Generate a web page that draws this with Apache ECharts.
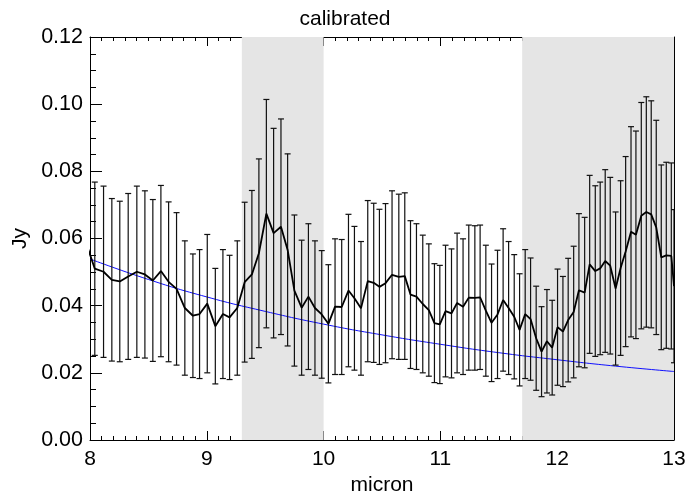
<!DOCTYPE html>
<html>
<head>
<meta charset="utf-8">
<script src="https://cdn.jsdelivr.net/npm/echarts@6/dist/echarts.min.js"></script>
<style>
  html, body { margin: 0; padding: 0; background: #fff; }
  #chart { width: 690px; height: 495px; }
</style>
</head>
<body>
<div id="chart"></div>
<script>
// wavelength grid (micron)
const micron = [7.97, 8.041, 8.116, 8.187, 8.255, 8.327, 8.401, 8.470, 8.538, 8.607,
  8.673, 8.741, 8.812, 8.881, 8.938, 9.004, 9.073, 9.138, 9.195, 9.261,
  9.324, 9.386, 9.446, 9.510, 9.572, 9.635, 9.692, 9.750, 9.812, 9.870,
  9.926, 9.984, 10.041, 10.098, 10.155, 10.213, 10.264, 10.320, 10.378, 10.429,
  10.478, 10.530, 10.586, 10.644, 10.695, 10.744, 10.795, 10.849, 10.901, 10.949,
  10.995, 11.044, 11.095, 11.143, 11.194, 11.243, 11.295, 11.340, 11.389, 11.438,
  11.489, 11.537, 11.584, 11.632, 11.678, 11.726, 11.772, 11.820, 11.866, 11.912,
  11.957, 12.003, 12.049, 12.094, 12.141, 12.186, 12.235, 12.278, 12.326, 12.368,
  12.411, 12.454, 12.500, 12.543, 12.586, 12.632, 12.674, 12.720, 12.763, 12.805,
  12.848, 12.891, 12.934, 12.977, 13.000]

// calibrated flux (Jy)
const flux = [0.0583, 0.0510, 0.0501, 0.0477, 0.0472, 0.0487, 0.0501, 0.0493, 0.0475, 0.0503,
  0.0471, 0.0450, 0.0393, 0.0370, 0.0375, 0.0406, 0.0339, 0.0375, 0.0365, 0.0393,
  0.0470, 0.0493, 0.0556, 0.0674, 0.0616, 0.0635, 0.0566, 0.0445, 0.0394, 0.0427,
  0.0393, 0.0374, 0.0346, 0.0397, 0.0396, 0.0445, 0.0422, 0.0392, 0.0473, 0.0468,
  0.0456, 0.0467, 0.0492, 0.0486, 0.0488, 0.0433, 0.0427, 0.0405, 0.0387, 0.0348,
  0.0344, 0.0384, 0.0377, 0.0408, 0.0397, 0.0424, 0.0423, 0.0425, 0.0385, 0.0349,
  0.0374, 0.0417, 0.0393, 0.0367, 0.0328, 0.0375, 0.0360, 0.0303, 0.0263, 0.0294,
  0.0275, 0.0336, 0.0323, 0.0357, 0.0381, 0.0446, 0.0439, 0.0523, 0.0503, 0.0511,
  0.0533, 0.0519, 0.0451, 0.0512, 0.0561, 0.0620, 0.0611, 0.0668, 0.0679, 0.0672,
  0.0633, 0.0544, 0.0550, 0.0548, 0.0458]

// symmetric 1-sigma errors (Jy)
const fluxErr = [0.0260, 0.0258, 0.0255, 0.0242, 0.0239, 0.0247, 0.0255, 0.0249, 0.0241, 0.0255,
  0.0238, 0.0227, 0.0200, 0.0184, 0.0192, 0.0206, 0.0172, 0.0192, 0.0185, 0.0200,
  0.0238, 0.0250, 0.0281, 0.0340, 0.0312, 0.0321, 0.0286, 0.0225, 0.0201, 0.0217,
  0.0200, 0.0190, 0.0176, 0.0202, 0.0201, 0.0227, 0.0214, 0.0199, 0.0240, 0.0237,
  0.0231, 0.0237, 0.0250, 0.0246, 0.0248, 0.0220, 0.0217, 0.0205, 0.0197, 0.0177,
  0.0176, 0.0196, 0.0192, 0.0208, 0.0202, 0.0216, 0.0215, 0.0215, 0.0195, 0.0175,
  0.0191, 0.0212, 0.0198, 0.0185, 0.0167, 0.0192, 0.0182, 0.0155, 0.0134, 0.0154,
  0.0141, 0.0173, 0.0164, 0.0184, 0.0196, 0.0228, 0.0224, 0.0265, 0.0254, 0.0257,
  0.0272, 0.0263, 0.0228, 0.0260, 0.0283, 0.0313, 0.0309, 0.0337, 0.0343, 0.0338,
  0.0319, 0.0275, 0.0277, 0.0277, 0.0228]

// blue model curve
const modelX = [8.0, 8.5, 9.0, 9.5, 10.0, 10.5, 11.0, 11.5, 12.0, 12.5, 13.0]
const modelY = [0.0539, 0.0478, 0.0426, 0.0383, 0.0345, 0.0313, 0.0285, 0.0260, 0.0239, 0.0220, 0.0204]

// shaded wavelength bands
const bands = [[9.3, 10.0], [11.7, 13.0]]

const xTicks = { min: 8, max: 13, interval: 1 }
const yTicks = { min: 0, max: 0.12, interval: 0.02 }

const font = 'Liberation Sans'
const chart = echarts.init(document.getElementById('chart'))

const xBase = {
  type: 'value',
  min: xTicks.min,
  max: xTicks.max,
  interval: xTicks.interval,
  axisLine: { onZero: false, lineStyle: { color: '#000', width: 1 } },
  axisTick: { inside: true, length: 9, lineStyle: { color: '#000' } },
  minorTick: { show: true, splitNumber: 10, length: 4, lineStyle: { color: '#000' } },
  splitLine: { show: false },
}
const yBase = {
  type: 'value',
  min: yTicks.min,
  max: yTicks.max,
  interval: yTicks.interval,
  axisLine: { show: true, onZero: false, lineStyle: { color: '#000', width: 1 } },
  axisTick: { show: true, inside: true, length: 12, lineStyle: { color: '#000' } },
  minorTick: { show: true, splitNumber: 4, length: 6, lineStyle: { color: '#000' } },
  splitLine: { show: false },
}

chart.setOption({
  animation: false,
  backgroundColor: '#fff',
  title: {
    text: 'calibrated',
    left: 'center',
    top: 4,
    textStyle: { fontFamily: font, fontSize: 21, fontWeight: 'normal', color: '#000' },
  },
  grid: { left: 90, right: 16, top: 37, bottom: 55, outerBoundsMode: 'none' },
  xAxis: [
    {
      ...xBase,
      position: 'bottom',
      name: 'micron',
      nameLocation: 'middle',
      nameGap: 34,
      nameTextStyle: { fontFamily: font, fontSize: 21, color: '#000' },
      axisLabel: { margin: 9, fontFamily: font, fontSize: 21, color: '#000' },
    },
    { ...xBase, position: 'top', axisLabel: { show: false } },
  ],
  yAxis: [
    {
      ...yBase,
      position: 'left',
      name: 'Jy',
      nameLocation: 'middle',
      nameRotate: 90,
      nameGap: 58,
      nameTextStyle: { fontFamily: font, fontSize: 21, color: '#000' },
      axisLabel: {
        margin: 7,
        fontFamily: font,
        fontSize: 21.5,
        color: '#000',
        formatter: (v) => v.toFixed(2),
      },
    },
    { ...yBase, position: 'right', axisLabel: { show: false } },
  ],
  series: [
    {
      type: 'line',
      name: 'model',
      z: 1,
      data: modelX.map((x, i) => [x, modelY[i]]),
      smooth: true,
      symbol: 'none',
      lineStyle: { color: '#1010ff', width: 1 },
      markArea: {
        silent: true,
        itemStyle: { color: '#e5e5e5' },
        data: bands.map((b) => [{ xAxis: b[0] }, { xAxis: b[1] }]),
      },
    },
    {
      type: 'custom',
      name: 'errors',
      z: 2,
      clip: true,
      data: micron.map((x, i) => [x, flux[i], fluxErr[i]]),
      encode: { x: 0, y: 1 },
      renderItem: (params, api) => {
        const x = api.value(0)
        const y = api.value(1)
        const e = api.value(2)
        const hi = api.coord([x, y + e])
        const lo = api.coord([x, y - e])
        const w = 3
        const style = { stroke: '#111', lineWidth: 1.2 }
        return {
          type: 'group',
          children: [
            { type: 'line', shape: { x1: hi[0], y1: hi[1], x2: lo[0], y2: lo[1] }, style },
            { type: 'line', shape: { x1: hi[0] - w, y1: hi[1], x2: hi[0] + w, y2: hi[1] }, style },
            { type: 'line', shape: { x1: lo[0] - w, y1: lo[1], x2: lo[0] + w, y2: lo[1] }, style },
          ],
        }
      },
    },
    {
      type: 'line',
      name: 'flux',
      z: 3,
      data: micron.map((x, i) => [x, flux[i]]),
      symbol: 'none',
      lineStyle: { color: '#000', width: 1.8 },
    },
  ],
})
</script>
</body>
</html>
